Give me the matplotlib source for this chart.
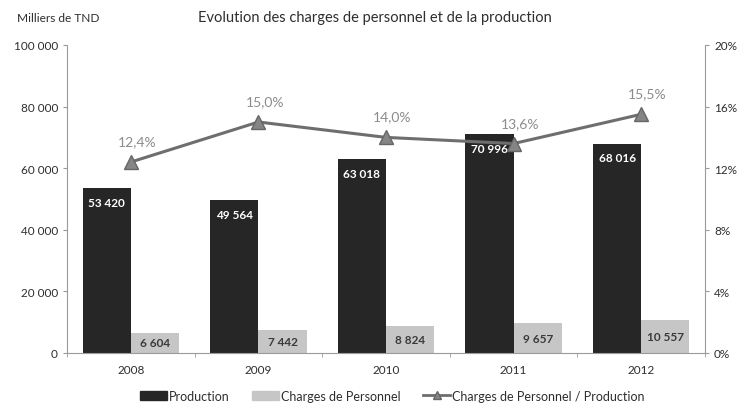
import matplotlib
matplotlib.use("Agg")
import matplotlib.pyplot as plt
from matplotlib.ticker import FixedLocator
from matplotlib.lines import Line2D
from matplotlib.patches import Patch
import numpy as np

plt.rcParams['font.family'] = ['Lato', 'DejaVu Sans']

years = ["2008", "2009", "2010", "2011", "2012"]
production = [53420, 49564, 63018, 70996, 68016]
charges = [6604, 7442, 8824, 9657, 10557]
ratio = [12.4, 15.0, 14.0, 13.6, 15.5]
ratio_labels = ["12,4%", "15,0%", "14,0%", "13,6%", "15,5%"]
prod_labels = ["53 420", "49 564", "63 018", "70 996", "68 016"]
charges_labels = ["6 604", "7 442", "8 824", "9 657", "10 557"]
left_ticks = [0, 20000, 40000, 60000, 80000, 100000]
left_tick_labels = ["0", "20 000", "40 000", "60 000", "80 000", "100 000"]
right_ticks = [0, 4, 8, 12, 16, 20]
right_tick_labels = ["0%", "4%", "8%", "12%", "16%", "20%"]

dark = "#262626"
light = "#c6c6c6"
linec = "#6e6e6e"
labc = "#8c8c8c"
txt = "#2e2e2e"
axc = "#9a9a9a"

fig = plt.figure(figsize=(7.38, 4.06), dpi=100)
ax = fig.add_axes([67/738, 1-354/406, 638/738, 308/406])
ax2 = ax.twinx()

x = np.arange(len(years))
w = 0.378
ax.bar(x - w/2, production, w, color=dark, zorder=2)
ax.bar(x + w/2, charges, w, color=light, zorder=2)

for xi, v, s in zip(x, production, prod_labels):
    ax.text(xi - w/2, v - 4700, s, ha='center', va='center', color='white',
            fontsize=8.5, fontweight='bold', zorder=3)
for xi, v, s in zip(x, charges, charges_labels):
    ax.text(xi + w/2, v/2, s, ha='center', va='center', color='#3a3a3a',
            fontsize=8.5, fontweight='bold', zorder=3)

ax.set_xlim(-0.5, len(years) - 0.5)
ax.set_ylim(0, 100000)
ax2.set_ylim(0, 20)

ax2.plot(x, ratio, color=linec, lw=2.2, marker='^', markersize=10,
         markerfacecolor='#858585', markeredgecolor='#666666', zorder=4)
for xi, v, s in zip(x, ratio, ratio_labels):
    ax2.text(xi + 0.05, v + 1.35, s, ha='center', va='center', color=labc, fontsize=10)

ax.yaxis.set_major_locator(FixedLocator(left_ticks))
ax.set_yticklabels(left_tick_labels)
ax2.yaxis.set_major_locator(FixedLocator(right_ticks))
ax2.set_yticklabels(right_tick_labels)
ax.set_xticks(x)
ax.set_xticklabels(years)
ax.set_xticks(np.arange(-0.5, len(years)), minor=True)

for a in (ax, ax2):
    a.spines['top'].set_visible(False)
    a.tick_params(colors=txt, labelsize=8.5, length=3, width=0.8)
ax.spines['right'].set_visible(False)
ax2.spines['left'].set_visible(False)
ax2.spines['bottom'].set_visible(False)
ax.spines['left'].set_color(axc)
ax.spines['left'].set_linestyle((0, (1, 1)))
ax2.spines['right'].set_color(axc)
ax2.spines['right'].set_linestyle((0, (1, 1)))
ax.spines['bottom'].set_color(axc)
ax.tick_params(axis='x', which='major', length=0, pad=8)
ax.tick_params(axis='x', which='minor', length=3, color=axc)
ax.tick_params(axis='y', color=axc)
ax2.tick_params(axis='y', color=axc)

fig.text(17/738, 1-18/406, "Milliers de TND", fontsize=8.6, color=txt, va='center', ha='left')
fig.text(375/738, 1-18/406, "Evolution des charges de personnel et de la production",
         fontsize=10.5, color=txt, va='center', ha='center')

handles = [Patch(color=dark, label="Production"),
           Patch(color=light, label="Charges de Personnel"),
           Line2D([0], [0], color=linec, lw=2, marker='^', markersize=6,
                  markerfacecolor='#858585', markeredgecolor='#666666',
                  label="Charges de Personnel / Production")]
fig.legend(handles=handles, loc='center', bbox_to_anchor=(392/738, 1-397/406),
           ncol=3, frameon=False, fontsize=9, handlelength=2.2, handleheight=0.8,
           columnspacing=1.8, handletextpad=0.1, labelcolor=txt)

fig.savefig("out.png", dpi=100)
